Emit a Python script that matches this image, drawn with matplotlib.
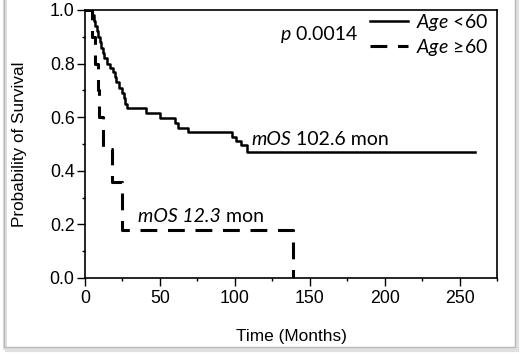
import matplotlib.pyplot as plt
from matplotlib.patches import Rectangle
from matplotlib.ticker import MultipleLocator

# Kaplan-Meier steps (months, survival probability)
young_t = [0, 5, 6, 7, 8, 9, 10, 11, 12, 13, 15, 17, 19, 20, 21, 23, 25, 26, 27, 28,
           41, 50, 60, 62, 69, 98, 101, 104, 108, 260]
young_s = [1.0, 0.98, 0.96, 0.94, 0.92, 0.90, 0.88, 0.86, 0.84, 0.82, 0.80, 0.785, 0.77,
           0.75, 0.73, 0.71, 0.69, 0.67, 0.65, 0.633,
           0.615, 0.596, 0.577, 0.558, 0.546, 0.527, 0.51, 0.497, 0.471, 0.471]

old_t = [0, 5, 7, 8.5, 9.5, 12.3, 17.7, 24.4, 139]
old_s = [1.0, 0.9, 0.8, 0.7, 0.6, 0.48, 0.36, 0.18, 0.0]

labels = ["Age <60", "Age \u226560"]
p_text = "0.0014"
mos_young = "102.6"
mos_old = "12.3"

plt.rcParams["font.family"] = ["Liberation Sans", "DejaVu Sans"]
plt.rcParams["mathtext.fontset"] = "custom"
plt.rcParams["mathtext.it"] = "Lato:italic"
plt.rcParams["mathtext.rm"] = "Lato"

LATO = ["Lato", "DejaVu Sans"]

fig = plt.figure(figsize=(5.2, 3.55), dpi=100)
ax = fig.add_axes([85 / 520, 77 / 355, 412 / 520, 268 / 355])

ax.plot(young_t, young_s, drawstyle="steps-post", color="black", lw=1.8,
        label=r"$\it{Age}$ <60")
ax.plot(old_t, old_s, drawstyle="steps-post", color="black", lw=2.2,
        linestyle=(0, (5.5, 3.5)), label=r"$\it{Age}$ " + "\u226560")

ax.set_xlim(0, 275)
ax.set_ylim(0, 1.0)
ax.xaxis.set_major_locator(MultipleLocator(50))
ax.xaxis.set_minor_locator(MultipleLocator(25))
ax.yaxis.set_major_locator(MultipleLocator(0.2))
ax.yaxis.set_minor_locator(MultipleLocator(0.1))
ax.yaxis.set_major_formatter(lambda v, pos: f"{v:.1f}")
ax.tick_params(which="major", length=5.5, width=1, labelsize=12.8, pad=3)
ax.tick_params(which="minor", length=2.5, width=1)
ax.tick_params(axis="y", pad=2)
for s in ax.spines.values():
    s.set_linewidth(1.2)

ax.set_xlabel("Time (Months)", fontsize=12.4, labelpad=16)
ax.set_ylabel("Probability of Survival", fontsize=12.3, labelpad=16)

# annotations: italic part first, upright part chained right after it
t = ax.text(130.7, 0.888, "p", fontsize=14, ha="left", va="baseline",
            family=LATO, style="italic")
ax.annotate(" " + p_text, xy=(1, 0), xycoords=t, va="bottom", fontsize=14, family=LATO)

t = ax.text(111.3, 0.496, "mOS", fontsize=14, ha="left", va="baseline",
            family=LATO, style="italic")
ax.annotate(" " + mos_young + " mon", xy=(1, 0), xycoords=t, va="bottom",
            fontsize=14, family=LATO)

t = ax.text(35.5, 0.209, "mOS " + mos_old, fontsize=14, ha="left", va="baseline",
            family=LATO, style="italic")
ax.annotate(" mon", xy=(1, 0), xycoords=t, va="bottom", fontsize=14, family=LATO)

ax.legend(loc="upper left", bbox_to_anchor=(0.686, 1.0), frameon=False,
          borderpad=0.1, borderaxespad=0, handlelength=2.0, handletextpad=0.4,
          labelspacing=0.2, prop={"family": LATO, "size": 14})

# outer picture frame with a soft shadow
fig.patches.append(Rectangle((5 / 520, 5.5 / 355), 512 / 520, 1.1, transform=fig.transFigure,
                             facecolor="none", edgecolor="#e0e0e0", lw=3, zorder=0))
fig.patches.append(Rectangle((3.5 / 520, 8 / 355), 511 / 520, 1.1, transform=fig.transFigure,
                             facecolor="none", edgecolor="#b8b8b8", lw=1, zorder=1))

fig.savefig("out.png", dpi=100)
